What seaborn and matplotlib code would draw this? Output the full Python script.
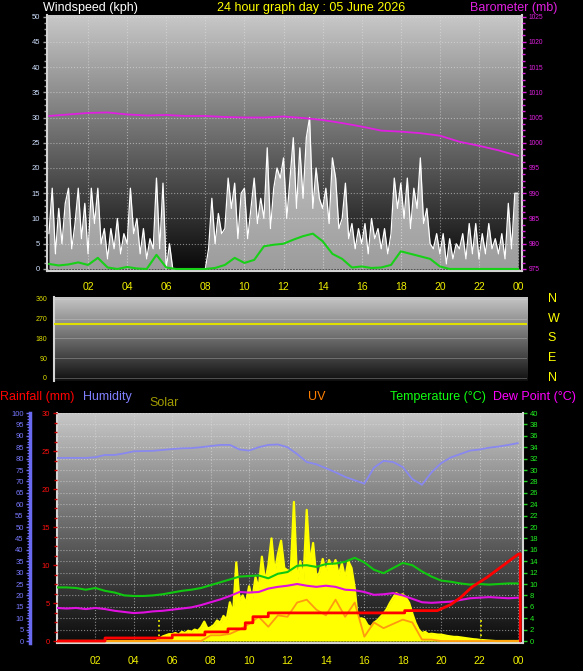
import numpy as np
import matplotlib
matplotlib.use("Agg")
import matplotlib.pyplot as plt
from matplotlib.ticker import MultipleLocator, FixedLocator, NullLocator
import seaborn as sns

sns.set_style("dark")
plt.rcParams["font.family"] = ["Liberation Sans", "DejaVu Sans"]

# ---------------- data ----------------
gust_hours = np.arange(145) / 6.0
wind_gust = [
    7, 16, 3, 12, 5, 13,
    16, 4, 9, 16, 6, 13,
    3, 16, 9, 16, 5, 8,
    2, 8, 4, 10, 3, 7,
    5, 16, 7, 10, 3, 8,
    2, 6, 4, 18, 4, 17,
    0, 5, 0, 0, 0, 0,
    0, 0, 0, 0, 0, 0,
    0, 4, 14, 5, 11, 7,
    8, 18, 12, 17, 6, 15,
    16, 6, 12, 18, 9, 14,
    10, 24, 8, 16, 20, 18,
    22, 10, 18, 26, 12, 24,
    14, 26, 30, 12, 20, 14,
    12, 16, 9, 22, 18, 8,
    10, 17, 6, 9, 4, 8,
    5, 9, 3, 10, 6, 8,
    4, 8, 3, 7, 18, 12,
    17, 10, 18, 8, 16, 12,
    22, 9, 12, 5, 4, 7,
    3, 7, 1, 6, 2, 5,
    4, 7, 2, 9, 3, 9,
    2, 7, 3, 9, 4, 6,
    3, 7, 2, 13, 4, 15,
    15,
]

avg_hours = np.arange(49) / 2.0
wind_avg = [
    1.0, 0.7, 0.9, 1.3, 0.8, 2.2, 0.3, 0.0, 0.4, 0.1, 0.0, 2.8,
    0.3, 0.0, 0.0, 0.0, 0.0, 0.2, 0.8, 2.2, 1.2, 1.8, 4.5, 4.8,
    5.0, 5.8, 6.5, 7.0, 5.5, 3.0, 2.0, 0.3, 0.5, 0.2, 0.3, 0.8,
    3.5, 3.0, 2.5, 2.0, 0.5, 0.0, 0.0, 0.0, 0.0, 0.0, 0.0, 0.0, 0.0,
]

baro_hours = np.arange(25)
barometer = [
    1005.3, 1005.6, 1005.9, 1006.0, 1005.6, 1005.4, 1005.5, 1005.3,
    1005.3, 1005.1, 1005.0, 1005.0, 1005.2, 1004.9, 1004.5, 1003.9,
    1003.2, 1002.4, 1002.2, 1001.9, 1001.4, 1000.2, 999.4, 998.5, 997.4,
]

dir_hours = [0, 24]
wind_dir = [247, 247]

half_hours = np.arange(49) / 2.0
humidity = [
    80.3, 80.3, 80.3, 80.3, 80.6, 81.6, 81.6, 82.3, 83.2, 83.3, 83.4, 83.8,
    84.2, 84.5, 84.6, 85.0, 85.5, 86.0, 86.0, 84.0, 83.5, 85.0, 86.0, 86.2,
    85.0, 82.0, 78.5, 77.5, 75.8, 74.0, 72.0, 70.5, 69.0, 76.0, 79.0, 78.5,
    76.3, 71.0, 68.5, 74.0, 78.0, 80.5, 82.0, 83.5, 84.0, 84.8, 85.3, 86.0, 86.8,
]
temperature = [
    9.4, 9.4, 9.3, 9.0, 9.3, 8.8, 8.5, 8.0, 7.9, 7.9, 8.0, 8.2,
    8.5, 8.8, 9.0, 9.3, 9.8, 10.3, 10.8, 11.3, 11.4, 11.5, 11.0, 11.8,
    12.1, 13.2, 13.3, 13.0, 13.5, 13.6, 13.9, 14.6, 13.8, 12.5, 11.9, 12.8,
    13.7, 13.3, 12.2, 11.3, 10.6, 10.4, 10.1, 9.9, 10.0, 9.9, 10.0, 10.1, 10.1,
]
dew_point = [
    5.8, 5.7, 5.8, 5.6, 5.8, 5.6, 5.3, 5.1, 4.9, 5.0, 5.2, 5.3,
    5.5, 5.7, 5.9, 6.3, 6.8, 7.3, 7.9, 8.6, 8.5, 8.6, 9.2, 9.5,
    9.7, 10.0, 9.7, 9.5, 9.7, 9.5, 9.0, 8.9, 8.6, 8.1, 8.2, 8.4,
    8.0, 7.4, 6.8, 6.7, 6.8, 6.9, 7.2, 7.5, 7.6, 7.7, 7.6, 7.5, 7.6,
]
uv_index = [
    0, 0, 0, 0, 0, 0, 0, 0, 0, 0, 0, 0,
    0, 0, 0, 0, 0.4, 0.4, 0.5, 0.8, 1.2, 1.7, 1.0, 1.8,
    1.7, 2.7, 2.9, 2.2, 1.8, 2.9, 1.7, 2.7, 0.3, 1.3, 0.9, 1.2,
    1.5, 1.3, 0.1, 0.1, 0, 0, 0, 0, 0, 0, 0, 0, 0,
]

rain_hours = [0, 2.5, 2.5, 6.0, 6.0, 7.7, 7.7, 8.9, 8.9, 9.8, 9.8, 10.2, 10.2,
              11.0, 11.0, 18.1, 18.1, 19.8, 20.5, 21.0, 21.6, 22.4, 23.2, 24.0,
              24.12, 24.12]
rainfall = [0, 0, 0.4, 0.4, 0.8, 0.8, 1.2, 1.2, 1.6, 1.6, 2.4, 2.4, 3.2,
            3.2, 3.7, 3.7, 4.0, 4.0, 4.8, 5.7, 7.1, 8.4, 9.9, 11.4, 11.5, 0]

solar_hours = np.arange(145) / 6.0
solar = [
    0, 0, 0, 0, 0, 0,
    0, 0, 0, 0, 0, 0,
    0, 0, 0, 0, 0, 0,
    0, 0, 0, 0, 0, 0,
    0, 0, 0, 0, 0, 0,
    0, 0, 10, 20, 25, 30,
    30, 35, 28, 40, 35, 45,
    40, 50, 45, 60, 85, 55,
    60, 70, 90, 80, 110, 95,
    170, 120, 345, 180, 200, 165,
    240, 180, 280, 230, 370, 260,
    330, 450, 300, 380, 440, 320,
    310, 300, 610, 260, 350, 270,
    575, 340, 430, 280, 300, 360,
    300, 355, 320, 355, 290, 340,
    276, 350, 320, 232, 92, 100,
    95, 70, 61, 80, 90, 105,
    120, 140, 167, 190, 210, 200,
    205, 190, 167, 120, 79, 50,
    35, 40, 30, 32, 30, 28,
    28, 25, 22, 20, 18, 18,
    16, 14, 12, 10, 8, 7,
    5, 4, 3, 2, 1, 0,
    0, 0, 0, 0, 0, 0,
    0,
]
sun_events = [5.3, 22.07]

hour_ticks = list(range(2, 25, 2))
hour_labels = ["02", "04", "06", "08", "10", "12", "14", "16", "18", "20", "22", "00"]
compass = ["N", "W", "S", "E", "N"]
compass_deg = [360, 270, 180, 90, 0]

# ---------------- helpers ----------------
W, H = 583, 671
fig = plt.figure(figsize=(W / 100, H / 100), dpi=100)
fig.patch.set_facecolor("black")


def rect(x0, y0, x1, y1):
    return [x0 / W, 1 - y1 / H, (x1 - x0) / W, (y1 - y0) / H]


def gradient(ax, top, bot):
    g = np.linspace(top, bot, 256) / 255.0
    img = np.dstack([g, g, g]).reshape(256, 1, 3)
    ax.imshow(img, extent=(0, 1, 0, 1), transform=ax.transAxes,
              aspect="auto", zorder=0, interpolation="bilinear")


def hide_all(ax):
    for s in ax.spines.values():
        s.set_visible(False)
    ax.yaxis.set_major_locator(NullLocator())
    ax.yaxis.set_minor_locator(NullLocator())


def spine_style(ax, sides, color="#d4d4d4", lw=1.5):
    for k, s in ax.spines.items():
        if k in sides:
            s.set_visible(True)
            s.set_color(color)
            s.set_linewidth(lw)
        else:
            s.set_visible(False)


GRID = dict(color="#e0e0e0", linestyle=":", linewidth=0.8, alpha=0.55)
YEL = "#f0f000"

# ---------------- wind speed panel ----------------
ax1 = fig.add_axes(rect(47, 15, 522, 271))
gradient(ax1, 200, 8)
ax1.fill_between(gust_hours, 0, wind_gust, color="white", alpha=0.6, lw=0, zorder=2)
sns.lineplot(x=gust_hours, y=wind_gust, ax=ax1, color="white", lw=0.9,
             estimator=None, sort=False, zorder=3)
sns.lineplot(x=avg_hours, y=wind_avg, ax=ax1, color="#18d018", lw=1.5,
             estimator=None, sort=False, zorder=4)
ax1.set_xlim(-0.1, 24.2)
ax1.set_ylim(-0.4, 50.3)
ax1.set_facecolor("none")
ax1.set_axisbelow(True)
ax1.yaxis.set_major_locator(MultipleLocator(5))
ax1.yaxis.set_minor_locator(MultipleLocator(1.25))
ax1.xaxis.set_major_locator(FixedLocator(hour_ticks))
ax1.xaxis.set_minor_locator(MultipleLocator(1 / 3))
ax1.set_xticklabels(hour_labels)
ax1.set_xlabel("")
ax1.set_ylabel("")

ax1b = ax1.twinx()
sns.lineplot(x=baro_hours, y=barometer, ax=ax1b, color="#e020e0", lw=1.3,
             estimator=None, sort=False)
ax1b.set_ylim(974.6, 1025.3)
ax1b.yaxis.set_major_locator(MultipleLocator(5))
ax1b.yaxis.set_minor_locator(MultipleLocator(1.25))
ax1b.tick_params(axis="y", which="major", colors="#e020e0", labelcolor="#e020e0",
                 labelsize=4.8, length=3, width=1, pad=2)
ax1b.tick_params(axis="y", which="minor", colors="#e020e0", length=2, width=1)
for s in ax1b.spines.values():
    s.set_visible(False)
ax1b.set_ylabel("")
ax1b.grid(False)

ax1.yaxis.set_ticks_position("left")
ax1.tick_params(axis="y", which="major", colors="#a0a0a0", labelcolor="#cfe0ff",
                labelsize=5.5, length=3, width=1, pad=2)
ax1.tick_params(axis="y", which="minor", colors="#a0a0a0", length=2, width=1)
ax1.tick_params(axis="x", which="major", colors="#909090", labelcolor=YEL,
                labelsize=7.5, length=3, pad=5)
ax1.tick_params(axis="x", which="minor", colors="#909090", length=2)
ax1.grid(True, which="major", **GRID)
spine_style(ax1, ["left", "bottom", "right"])

fig.text(43 / W, 1 - 8 / H, "Windspeed (kph)", color="white", fontsize=9, va="center")
fig.text(311 / W, 1 - 8 / H, "24 hour graph day : 05 June 2026", color="#ffff00",
         fontsize=9, va="center", ha="center")
fig.text(557 / W, 1 - 8 / H, "Barometer (mb)", color="#e020e0", fontsize=9,
         va="center", ha="right")

# ---------------- wind direction panel ----------------
ax2 = fig.add_axes(rect(54, 297, 527, 381))
gradient(ax2, 200, 15)
sns.lineplot(x=dir_hours, y=wind_dir, ax=ax2, color="#e0e000", lw=1.5,
             estimator=None, sort=False, zorder=3)
ax2.set_xlim(0, 24)
ax2.set_ylim(-14, 369)
ax2.set_facecolor("none")
ax2.set_axisbelow(True)
ax2.yaxis.set_major_locator(FixedLocator([0, 90, 180, 270, 360]))
ax2.yaxis.set_minor_locator(MultipleLocator(22.5))
ax2.xaxis.set_major_locator(NullLocator())
ax2.tick_params(axis="y", which="major", colors="#d0d000", labelcolor="#e0e000",
                labelsize=5, length=3, width=1, pad=2)
ax2.tick_params(axis="y", which="minor", colors="#d0d000", length=2, width=1)
ax2.grid(True, axis="y", which="major", color="#e0e0e0", linestyle="-",
         linewidth=0.6, alpha=0.35)
spine_style(ax2, ["left"])
ax2.set_xlabel("")
ax2.set_ylabel("")
for lab, deg in zip(compass, compass_deg):
    ax2.text(1.044, deg, lab, transform=ax2.get_yaxis_transform(), color="#ffff00",
             fontsize=9, va="center", ha="left")

# ---------------- lower panel ----------------
ax3 = fig.add_axes(rect(57, 413, 523, 643))
gradient(ax3, 200, 10)
ax3.set_xlim(0.0, 24.26)
ax3.set_ylim(-0.35, 40)
ax3.set_facecolor("none")
ax3.set_axisbelow(True)
ax3.set_zorder(0)

# solar
ax_s = ax3.twinx()
ax_s.set_zorder(1)
ax_s.fill_between(solar_hours, 0, solar, color="#ffff00", lw=0, zorder=2)
sns.lineplot(x=solar_hours, y=solar, ax=ax_s, color="#ffff00", lw=1.6,
             estimator=None, sort=False, zorder=3)
ax_s.vlines(sun_events, 0, 95, colors="#e8e800", linestyles=":", lw=1.3, zorder=3)
ax_s.set_ylim(-8.7, 1000)
hide_all(ax_s)

# UV
ax_u = ax3.twinx()
ax_u.set_zorder(2)
sns.lineplot(x=half_hours, y=uv_index, ax=ax_u, color="#ff9a10", lw=1.3,
             estimator=None, sort=False)
ax_u.set_ylim(-0.14, 16)
hide_all(ax_u)

# temperature & dew point
ax_t = ax3.twinx()
ax_t.set_zorder(3)
sns.lineplot(x=half_hours, y=temperature, ax=ax_t, color="#10c810", lw=1.5,
             estimator=None, sort=False)
sns.lineplot(x=half_hours, y=dew_point, ax=ax_t, color="#e010e0", lw=1.5,
             estimator=None, sort=False)
ax_t.set_ylim(-0.35, 40)
hide_all(ax_t)

# humidity
ax_h = ax3.twinx()
ax_h.set_zorder(4)
sns.lineplot(x=half_hours, y=humidity, ax=ax_h, color="#8888f0", lw=1.3,
             estimator=None, sort=False)
ax_h.set_ylim(-0.87, 100)
ax_h.yaxis.set_ticks_position("left")
for k, s in ax_h.spines.items():
    s.set_visible(k == "left")
ax_h.spines["left"].set_position(("outward", 19.5))
ax_h.spines["left"].set_color("#6a6af0")
ax_h.spines["left"].set_linewidth(2.5)
ax_h.yaxis.set_major_locator(MultipleLocator(5))
ax_h.yaxis.set_minor_locator(MultipleLocator(1.25))
ax_h.tick_params(axis="y", which="major", colors="#6a6af0", labelcolor="#7878ff",
                 labelsize=5.5, length=3, width=1, pad=1.5)
ax_h.tick_params(axis="y", which="minor", colors="#6a6af0", length=2, width=0.8)

# rainfall
ax_r = ax3.twinx()
ax_r.set_zorder(5)
sns.lineplot(x=rain_hours, y=rainfall, ax=ax_r, color="#ff0000", lw=2,
             estimator=None, sort=False)
ax_r.set_ylim(-0.26, 30)
ax_r.yaxis.set_ticks_position("left")
for s in ax_r.spines.values():
    s.set_visible(False)
ax_r.yaxis.set_major_locator(MultipleLocator(5))
ax_r.yaxis.set_minor_locator(MultipleLocator(1.25))
ax_r.tick_params(axis="y", which="major", colors="#d00000", labelcolor="#ff1010",
                 labelsize=5.5, length=3, width=1, pad=2)
ax_r.tick_params(axis="y", which="minor", colors="#d00000", length=2, width=1)

for a in (ax_s, ax_u, ax_t, ax_h, ax_r):
    a.set_ylabel("")
    a.grid(False)
    a.patch.set_visible(False)

# base axis (temperature scale on the right) configured after twinning
ax3.yaxis.set_ticks_position("right")
ax3.yaxis.set_major_locator(MultipleLocator(2))
ax3.yaxis.set_minor_locator(NullLocator())
ax3.xaxis.set_major_locator(FixedLocator(hour_ticks))
ax3.xaxis.set_minor_locator(MultipleLocator(2 / 3))
ax3.set_xticklabels(hour_labels)
ax3.tick_params(axis="y", which="major", left=False, labelleft=False,
                right=True, labelright=True, colors="#20d020", labelcolor="#20ee20",
                labelsize=5.5, length=3, width=1, pad=2)
ax3.tick_params(axis="x", which="major", colors="#909090", labelcolor=YEL,
                labelsize=7.5, length=3, pad=6)
ax3.tick_params(axis="x", which="minor", colors="#909090", length=2)
ax3.grid(True, which="major", **GRID)
spine_style(ax3, ["left", "bottom", "right"])
ax3.set_xlabel("")
ax3.set_ylabel("")

row_y = 1 - 397 / H
fig.text(0 / W, row_y, "Rainfall (mm)", color="#ff0000", fontsize=9, va="center")
fig.text(83 / W, row_y, "Humidity", color="#8080ff", fontsize=9, va="center")
fig.text(149 / W, 1 - 403 / H, "Solar", color="#a09a00", fontsize=9, va="center")
fig.text(308 / W, row_y, "UV", color="#ff8000", fontsize=9, va="center")
fig.text(390 / W, row_y, "Temperature (°C)", color="#10ff10", fontsize=9, va="center")
fig.text(493 / W, row_y, "Dew Point (°C)", color="#ff00ff", fontsize=9, va="center")

fig.savefig("out.png", dpi=100, facecolor="black")
